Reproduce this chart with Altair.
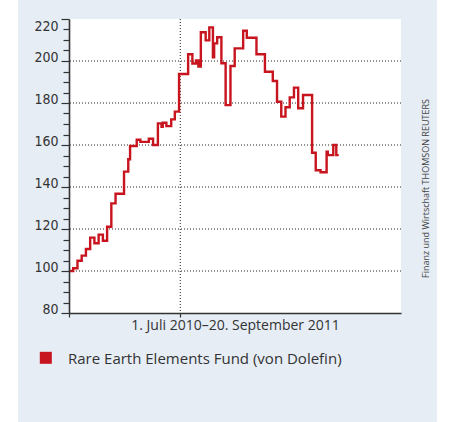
import altair as alt
import pandas as pd

# ---- data ----
dates = [
    "2010-07-01", "2010-07-08", "2010-07-15", "2010-07-22", "2010-07-29",
    "2010-08-05", "2010-08-12", "2010-08-19", "2010-08-26", "2010-09-02",
    "2010-09-09", "2010-09-16", "2010-09-30", "2010-10-07", "2010-10-10",
    "2010-10-21", "2010-10-27", "2010-11-10", "2010-11-17", "2010-11-25",
    "2010-12-01", "2010-12-03", "2010-12-09", "2010-12-17", "2010-12-23",
    "2010-12-30", "2011-01-14", "2011-01-21", "2011-01-27", "2011-01-31",
    "2011-02-04", "2011-02-12", "2011-02-18", "2011-02-24", "2011-02-26",
    "2011-03-03", "2011-03-10", "2011-03-17", "2011-03-25", "2011-04-01",
    "2011-04-15", "2011-04-21", "2011-05-07", "2011-05-21", "2011-06-03",
    "2011-06-10", "2011-06-17", "2011-06-24", "2011-07-01", "2011-07-08",
    "2011-07-15", "2011-07-23", "2011-08-07", "2011-08-13", "2011-08-21",
    "2011-08-31", "2011-09-02", "2011-09-11", "2011-09-16", "2011-09-20",
]
values = [
    100.0, 101.3, 104.9, 107.3, 110.5,
    115.9, 113.2, 117.3, 114.4, 121.1,
    132.2, 136.8, 147.3, 153.2, 159.5,
    162.5, 161.5, 163.0, 160.0, 170.3,
    168.7, 170.6, 169.0, 172.2, 175.9,
    193.8, 203.2, 198.8, 200.3, 197.4,
    213.7, 209.8, 216.0, 201.8, 208.4,
    211.3, 198.9, 179.0, 197.6, 206.0,
    214.4, 211.1, 203.2, 194.9, 190.5,
    180.6, 173.5, 178.0, 182.7, 187.3,
    177.5, 183.8, 156.3, 148.0, 147.0,
    156.8, 155.2, 160.0, 155.2, 155.2,
]
series_name = "Rare Earth Elements Fund (von Dolefin)"
y_ticks = list(range(80, 225, 5))
y_grid = [100, 120, 140, 160, 180, 200]
x_title = "1. Juli 2010\u201320. September 2011"
source_text = "Finanz und Wirtschaft THOMSON REUTERS"

W, H = 332, 294
RED = "#c8141e"
PANEL = "#e6edf5"
AXIS_COL = "#333333"

df = pd.DataFrame({"date": pd.to_datetime(dates), "value": values})
one = pd.DataFrame({"name": [series_name], "src": [source_text]})

xscale = alt.Scale(domain=[alt.DateTime(year=2010, month=7, date=1),
                           alt.DateTime(year=2012, month=1, date=1)])
yscale = alt.Scale(domain=[80, 220], nice=False, zero=False)

xaxis = alt.Axis(
    values=[alt.DateTime(year=2010, month=7, date=1), alt.DateTime(year=2011, month=1, date=1)],
    labels=False, grid=False, tickSize=4, tickColor=AXIS_COL, tickWidth=1.2,
    domainColor=AXIS_COL, domainWidth=1.6, title=x_title, titleFont="Open Sans",
    titleFontSize=14, titleFontWeight="normal", titleColor=AXIS_COL, titlePadding=1,
    zindex=1,
)
yaxis = alt.Axis(
    values=y_ticks, grid=False, title=None,
    labelExpr="datum.value % 20 == 0 ? datum.label : ''",
    labelFont="Liberation Sans Narrow, DejaVu Sans Condensed, sans-serif",
    labelFontSize=14, labelColor=AXIS_COL, labelPadding=3,
    labelBaseline={"condition": {"test": "datum.value == 220", "value": "top"}, "value": "alphabetic"},
    tickSize={"condition": {"test": "datum.value % 20 == 0", "value": 8}, "value": 6},
    tickColor=AXIS_COL, tickWidth=1.2, domainColor=AXIS_COL, domainWidth=1.6,
    zindex=1,
)

base = alt.Chart(df)

panel = alt.Chart(one).mark_rect(color=PANEL).encode(
    x=alt.value(-51), x2=alt.value(368), y=alt.value(-19), y2=alt.value(403))
plotbg = alt.Chart(one).mark_rect(color="white").encode(
    x=alt.value(0), x2=alt.value(W), y=alt.value(0), y2=alt.value(H))

hgrid = alt.Chart(pd.DataFrame({"value": y_grid})).mark_rule(
    color="#222222", strokeDash=[1, 2], strokeWidth=1).encode(
    y=alt.Y("value:Q", scale=yscale, axis=yaxis))
vgrid = alt.Chart(pd.DataFrame({"date": pd.to_datetime(["2011-01-01"])})).mark_rule(
    color="#222222", strokeDash=[1, 2], strokeWidth=1).encode(
    x=alt.X("date:T", scale=xscale, axis=xaxis))

line = base.mark_line(interpolate="step-after", color=RED, strokeWidth=2.4).encode(
    x=alt.X("date:T", scale=xscale, axis=xaxis),
    y=alt.Y("value:Q", scale=yscale, axis=yaxis),
)

leg_sym = alt.Chart(one).mark_square(size=144, color=RED, opacity=1).encode(
    x=alt.value(-23.2), y=alt.value(338.8))
leg_txt = alt.Chart(one).mark_text(
    align="left", baseline="middle", font="Open Sans", fontSize=15, color=AXIS_COL).encode(
    x=alt.value(-1), y=alt.value(339.5), text="name:N")
src = alt.Chart(one).mark_text(
    align="center", baseline="middle", angle=270, font="Open Sans", fontSize=9,
    color="#444444").encode(x=alt.value(357), y=alt.value(169.5), text="src:N")

chart = alt.layer(panel, plotbg, hgrid, vgrid, line, leg_sym, leg_txt, src).properties(
    width=W, height=H,
    autosize=alt.AutoSizeParams(type="none"),
    padding={"left": 69, "top": 19, "right": 48, "bottom": 109},
    background="white",
).configure_view(stroke=None)

chart.save("out.html", embed_options={"renderer": "svg", "actions": False})
